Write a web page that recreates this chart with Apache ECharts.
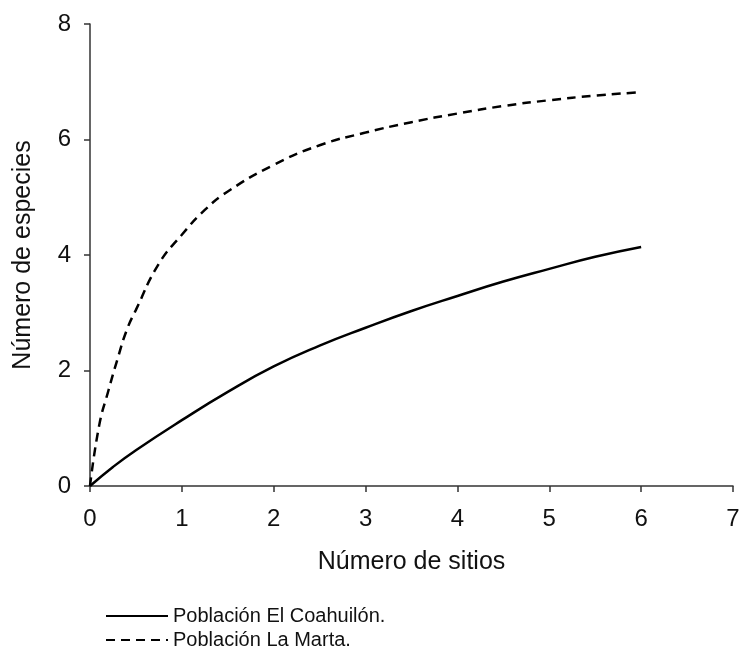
<!DOCTYPE html>
<html>
<head>
<meta charset="utf-8">
<script src="https://cdn.jsdelivr.net/npm/echarts@6/dist/echarts.min.js"></script>
<style>
  html, body { margin: 0; padding: 0; background: #fff; }
  #chart { width: 744px; height: 661px; }
</style>
</head>
<body>
<div id="chart"></div>
<script>
// curvas de acumulación de especies
const sitiosCoahuilon = [0, 0.25, 0.5, 1, 1.5, 2, 2.5, 3, 3.5, 4, 4.5, 5, 5.5, 6];
const especiesCoahuilon = [0, 0.33, 0.62, 1.14, 1.63, 2.07, 2.43, 2.74, 3.03, 3.29, 3.54, 3.76, 3.97, 4.14];

const sitiosMarta = [0, 0.1, 0.2, 0.3, 0.4, 0.5, 0.75, 1, 1.25, 1.5, 2, 2.5, 3, 3.5, 4, 4.5, 5, 5.5, 6];
const especiesMarta = [0, 1.05, 1.65, 2.2, 2.7, 3.05, 3.85, 4.35, 4.78, 5.1, 5.56, 5.9, 6.12, 6.3, 6.45, 6.58, 6.68, 6.76, 6.82];

const nombres = ['Población El Coahuilón.', 'Población La Marta.'];

const pares = (xs, ys) => xs.map((x, i) => [x, ys[i]]);

const chart = echarts.init(document.getElementById('chart'));
const fuente = 'Liberation Sans, Arial, sans-serif';

const option = {
    animation: false,
    grid: {
        left: 90,
        right: 11,
        top: 24,
        bottom: 175
    },
    xAxis: {
        type: 'value',
        min: 0,
        max: 7,
        interval: 1,
        name: 'Número de sitios',
        nameLocation: 'middle',
        nameGap: 64,
        nameTextStyle: { fontFamily: fuente, fontSize: 25, color: '#111' },
        splitLine: { show: false },
        axisLine: { lineStyle: { color: '#333', width: 1.5 } },
        axisTick: { length: 6, lineStyle: { color: '#333', width: 1.5 } },
        axisLabel: { fontFamily: fuente, fontSize: 24, color: '#111', margin: 21 }
    },
    yAxis: {
        type: 'value',
        min: 0,
        max: 8,
        interval: 2,
        name: 'Número de especies',
        nameLocation: 'middle',
        nameGap: 54,
        nameTextStyle: { fontFamily: fuente, fontSize: 25, color: '#111' },
        splitLine: { show: false },
        axisLine: { show: true, lineStyle: { color: '#333', width: 1.5 } },
        axisTick: { show: true, length: 6, lineStyle: { color: '#333', width: 1.5 } },
        axisLabel: { fontFamily: fuente, fontSize: 24, color: '#111', margin: 19 }
    },
    legend: {
        orient: 'vertical',
        left: 100,
        top: 601,
        itemWidth: 62,
        itemHeight: 14,
        itemGap: 4,
        itemStyle: { opacity: 0 },
        textStyle: { fontFamily: fuente, fontSize: 20, color: '#111' },
        data: nombres
    },
    series: [
        {
            name: nombres[0],
            type: 'line',
            smooth: true,
            symbol: 'none',
            data: pares(sitiosCoahuilon, especiesCoahuilon),
            lineStyle: { color: '#000', width: 2.5, type: 'solid' },
            itemStyle: { color: '#000' }
        },
        {
            name: nombres[1],
            type: 'line',
            smooth: true,
            symbol: 'none',
            data: pares(sitiosMarta, especiesMarta),
            lineStyle: { color: '#000', width: 2.5, type: [9, 6] },
            itemStyle: { color: '#000' }
        }
    ]
};

chart.setOption(option);
</script>
</body>
</html>
